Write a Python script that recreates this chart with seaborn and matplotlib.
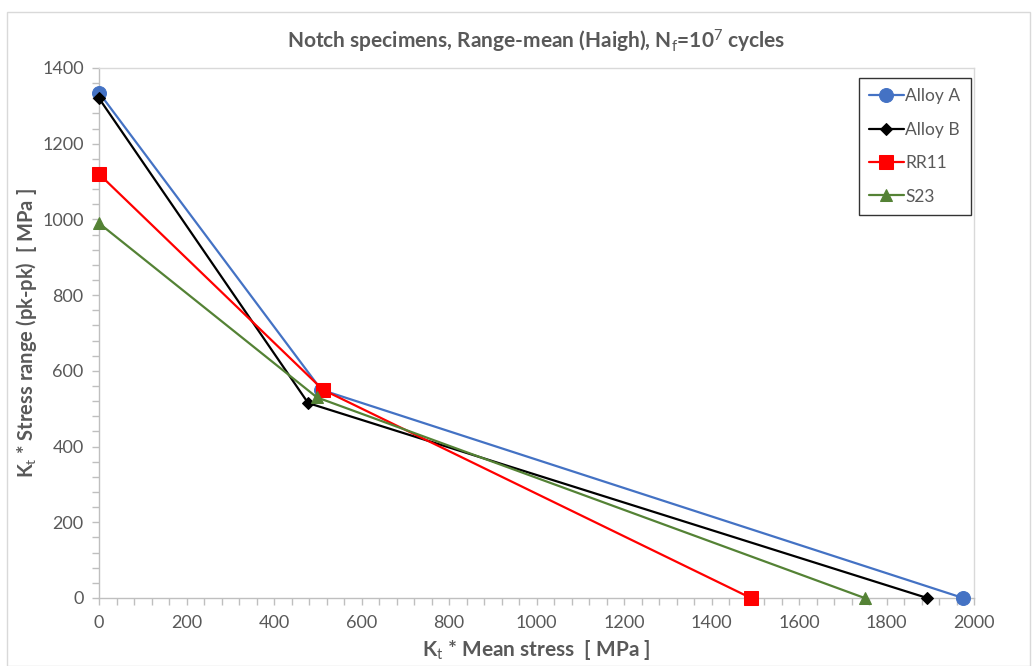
import numpy as np
import pandas as pd
import matplotlib
matplotlib.use("Agg")
import matplotlib.pyplot as plt
import seaborn as sns
from matplotlib.patches import Rectangle
from matplotlib.ticker import MultipleLocator

# data: (mean stress, stress range) in MPa
alloy_a_x = [0, 508, 1975]
alloy_a_y = [1335, 550, 0]
alloy_b_x = [0, 478, 1893]
alloy_b_y = [1320, 515, 0]
rr11_x = [0, 512, 1490]
rr11_y = [1120, 550, 0]
s23_x = [0, 498, 1750]
s23_y = [990, 530, 0]

series = ['Alloy A', 'Alloy B', 'RR11', 'S23']
xs = [alloy_a_x, alloy_b_x, rr11_x, s23_x]
ys = [alloy_a_y, alloy_b_y, rr11_y, s23_y]

colors = {'Alloy A': '#4472C4', 'Alloy B': '#000000', 'RR11': '#FF0000', 'S23': '#548235'}
markers = {'Alloy A': 'o', 'Alloy B': 'D', 'RR11': 's', 'S23': '^'}
msizes = {'Alloy A': 10, 'Alloy B': 6, 'RR11': 10, 'S23': 8}

sns.set_style('white')
plt.rcParams['font.family'] = ['Lato', 'DejaVu Sans']
plt.rcParams['mathtext.fontset'] = 'custom'
plt.rcParams['mathtext.rm'] = 'Lato'
plt.rcParams['mathtext.it'] = 'Lato'
plt.rcParams['mathtext.bf'] = 'Lato:bold'

grey = '#595959'

fig = plt.figure(figsize=(10.35, 6.66), dpi=100)
ax = fig.add_axes([99/1035, 1 - 598/666, (974-99)/1035, (598-68)/666])

# chart frame
fig.patches.append(Rectangle((7/1035, 0), 1023/1035, 1 - 12/666, transform=fig.transFigure,
                             fill=False, edgecolor='#D9D9D9', lw=1))

for name, x, y in zip(series, xs, ys):
    df = pd.DataFrame({'x': x, 'y': y})
    sns.lineplot(data=df, x='x', y='y', ax=ax, color=colors[name], marker=markers[name],
                 markersize=msizes[name], markeredgecolor=colors[name], lw=1.6,
                 sort=False, label=name, clip_on=False, zorder=3)

ax.set_xlim(0, 2000)
ax.set_ylim(0, 1400)
ax.xaxis.set_major_locator(MultipleLocator(200))
ax.xaxis.set_minor_locator(MultipleLocator(40))
ax.yaxis.set_major_locator(MultipleLocator(200))
ax.yaxis.set_minor_locator(MultipleLocator(40))
ax.tick_params(which='both', direction='out', color='#BFBFBF', labelcolor=grey, labelsize=13)
ax.tick_params(which='major', length=5, width=1, bottom=True, left=True)
ax.tick_params(which='minor', length=5, width=1, bottom=True, left=True)
ax.tick_params(axis='x', pad=7)
ax.tick_params(axis='y', pad=6)
for s in ax.spines.values():
    s.set_color('#D9D9D9')
    s.set_linewidth(1)
ax.spines['left'].set_color('#BFBFBF')
ax.spines['bottom'].set_color('#BFBFBF')

ax.set_xlabel('K$_t$ * Mean stress  [ MPa ]', fontsize=15, fontweight='bold', color=grey, labelpad=5)
ax.set_ylabel('K$_t$ * Stress range (pk-pk)  [ MPa ]', fontsize=14.5, fontweight='bold', color=grey)
ax.yaxis.set_label_coords(-0.068, 0.5)
ax.set_title('Notch specimens, Range-mean (Haigh), N$_f$=10$^7$ cycles', fontsize=15,
             fontweight='bold', color=grey, pad=14)

leg = ax.legend(loc='upper right', bbox_to_anchor=(0.9966, 0.981), frameon=True, fancybox=False,
                edgecolor='black', fontsize=12.5, labelspacing=1.0, handlelength=2.0,
                handletextpad=0.1, borderpad=0.6, borderaxespad=0.0)
leg.get_frame().set_linewidth(1.0)
for t in leg.get_texts():
    t.set_color(grey)

fig.savefig('out.png', dpi=100)
